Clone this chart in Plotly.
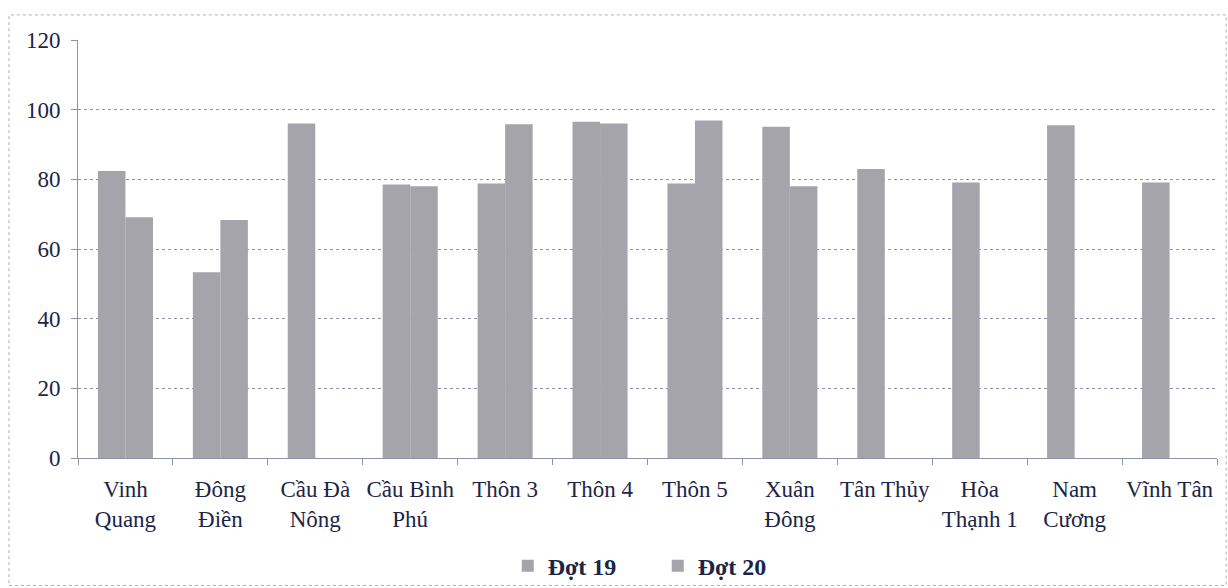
import plotly.graph_objects as go

categories = ["Vinh<br>Quang", "Đông<br>Điền", "Cầu Đà<br>Nông", "Cầu Bình<br>Phú", "Thôn 3", "Thôn 4",
              "Thôn 5", "Xuân<br>Đông", "Tân Thủy", "Hòa<br>Thạnh 1", "Nam<br>Cương", "Vĩnh Tân"]
dot19 = [82.4, 53.3, 96.0, 78.5, 78.8, 96.5, 78.8, 95.1, 83.0, 79.1, 95.5, 79.1]
dot20 = [69.1, 68.3, None, 78.0, 95.8, 96.0, 96.9, 78.0, None, None, None, None]
series_names = ["Đợt 19", "Đợt 20"]
y_ticks = [0, 20, 40, 60, 80, 100, 120]

text_color = "#1c2545"
bar_color = "#a4a4aa"
grid_color = "#8e93aa"

fig = go.Figure()
fig.add_trace(go.Bar(x=categories, y=dot19, name=series_names[0], marker=dict(color=bar_color, line=dict(width=0))))
fig.add_trace(go.Bar(x=categories, y=dot20, name=series_names[1], marker=dict(color=bar_color, line=dict(width=0))))

fig.update_layout(
    width=1228, height=588,
    margin=dict(l=78, r=11, t=40, b=130, autoexpand=False),
    paper_bgcolor="white", plot_bgcolor="white",
    barmode="group", bargap=0.42, bargroupgap=0,
    font=dict(family="Liberation Serif", size=23, color=text_color),
    showlegend=True,
    legend=dict(orientation="h", x=0.509, xanchor="center", y=-0.259, yanchor="middle",
                font=dict(family="Liberation Serif", size=24, color=text_color, weight="bold"),
                itemwidth=30, entrywidth=105, entrywidthmode="pixels",
                traceorder="normal", bgcolor="rgba(0,0,0,0)"),
)
fig.update_xaxes(
    showline=True, linecolor=grid_color, linewidth=1, automargin=False,
    ticks="outside", tickson="boundaries", ticklen=6, tickcolor=grid_color,
    showgrid=False, tickangle=0, ticklabelstandoff=10,
    tickfont=dict(family="Liberation Serif", size=23, color=text_color),
)
fig.update_yaxes(
    range=[0, 120], tickvals=y_ticks, showgrid=True, gridcolor=grid_color, griddash="dot", gridwidth=1,
    showline=True, linecolor=grid_color, linewidth=1, automargin=False,
    ticks="outside", ticklen=6, tickcolor=grid_color, zeroline=False, ticklabelstandoff=6,
    tickfont=dict(family="Liberation Serif", size=23, color=text_color),
)
fig.add_shape(type="rect", xref="paper", yref="paper",
              x0=-0.0606, x1=1.008, y0=-0.305, y1=1.06,
              line=dict(color="#b0b0b8", width=1, dash="dot"), fillcolor="rgba(0,0,0,0)", layer="below")

fig.write_html("out.html")
